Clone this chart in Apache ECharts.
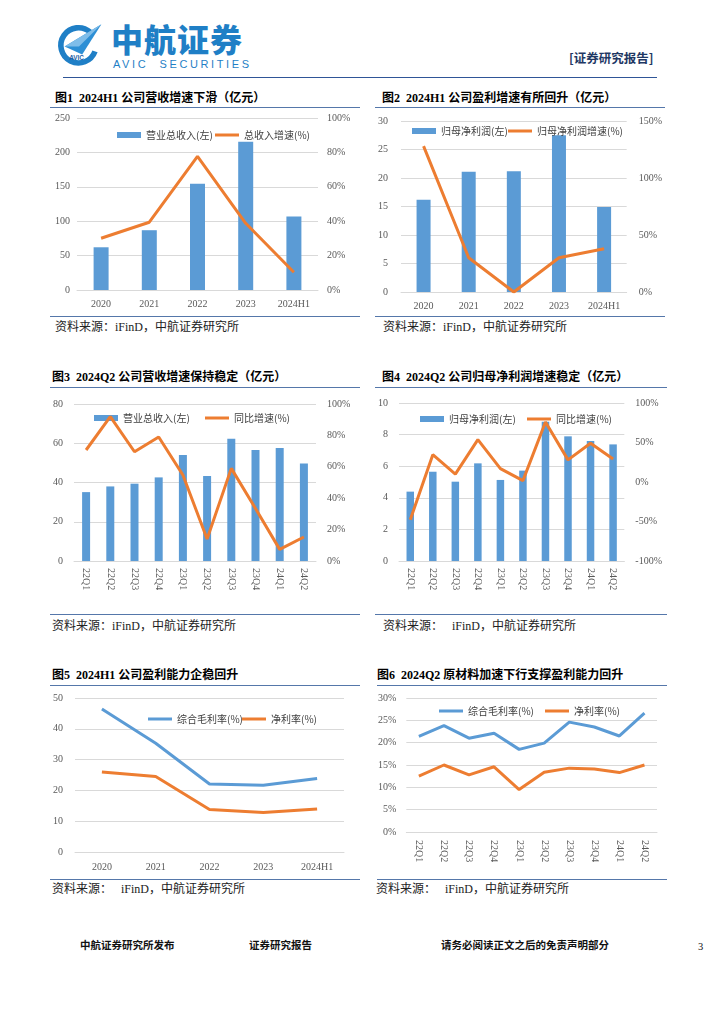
<!DOCTYPE html>
<html>
<head>
<meta charset="utf-8">
<script src="https://cdn.jsdelivr.net/npm/echarts/dist/echarts.min.js"></script>
<style>
  html,body{margin:0;padding:0;background:#fff;}
  body{width:724px;height:1024px;position:relative;overflow:hidden;font-family:"Liberation Serif","Noto Sans CJK SC",serif;}
  .abs{position:absolute;white-space:nowrap;}
  .title{font-family:"Liberation Serif","Noto Sans CJK SC",serif;font-weight:bold;font-size:12px;color:#000;line-height:14px;}
  .src{font-family:"Liberation Serif","Noto Sans CJK SC",serif;font-size:12px;color:#222;line-height:14px;}
  .hline{position:absolute;height:0;border-top:1.4px solid #5577aa;}
  .chart{position:absolute;}
  .foot{font-family:"Noto Sans CJK SC",sans-serif;font-weight:bold;font-size:10.5px;color:#111;line-height:12px;}
</style>
</head>
<body>

<!-- header -->
<svg class="abs" style="left:55px;top:22px" width="48" height="46" viewBox="0 0 60 56">
  <path d="M44 12 A22 22 0 1 0 50 36" fill="none" stroke="#1f7fc6" stroke-width="7"/>
  <polygon points="12,30 58,2 34,40" fill="#2d8fd5"/>
  <polygon points="12,30 58,2 30,30" fill="#7fbde9"/>
  <text x="27" y="47" font-size="8" font-weight="bold" font-family="Liberation Sans" fill="#1f5fa6" text-anchor="middle">AVIC</text>
</svg>
<div class="abs" style="left:111px;top:18px;font-family:'Noto Sans CJK SC';font-weight:900;font-size:32px;color:#1f7fc6;line-height:40px;letter-spacing:1px;">中航证券</div>
<div class="abs" style="left:113px;top:58px;font-family:'Liberation Sans';font-size:11px;color:#1f7fc6;letter-spacing:2.6px;line-height:12px;">AVIC&nbsp;&nbsp;SECURITIES</div>
<div class="abs" style="left:569px;top:50px;font-family:'Noto Sans CJK SC';font-weight:bold;font-size:12.5px;color:#1f3864;line-height:16px;">[证券研究报告]</div>
<div class="hline" style="left:63px;top:77px;width:594px;border-top:1.6px solid #2f5597;"></div>

<!-- panel titles / rules / sources -->
<div class="abs title" style="left:55px;top:91px;">图1&nbsp; 2024H1 公司营收增速下滑（亿元）</div>
<div class="hline" style="left:50px;top:107px;width:310px;"></div>
<div class="hline" style="left:50px;top:316px;width:310px;"></div>
<div class="abs src" style="left:55px;top:320px;">资料来源：iFinD，中航证券研究所</div>

<div class="abs title" style="left:382px;top:91px;">图2&nbsp; 2024H1 公司盈利增速有所回升（亿元）</div>
<div class="hline" style="left:375px;top:107px;width:290px;"></div>
<div class="hline" style="left:375px;top:316px;width:290px;"></div>
<div class="abs src" style="left:383px;top:320px;">资料来源：iFinD，中航证券研究所</div>

<div class="abs title" style="left:52px;top:370px;">图3&nbsp; 2024Q2 公司营收增速保持稳定（亿元）</div>
<div class="hline" style="left:50px;top:387px;width:310px;"></div>
<div class="hline" style="left:50px;top:614px;width:310px;"></div>
<div class="abs src" style="left:52px;top:619px;">资料来源：iFinD，中航证券研究所</div>

<div class="abs title" style="left:382px;top:370px;">图4&nbsp; 2024Q2 公司归母净利润增速稳定（亿元）</div>
<div class="hline" style="left:375px;top:387px;width:292px;"></div>
<div class="hline" style="left:375px;top:614px;width:292px;"></div>
<div class="abs src" style="left:383px;top:619px;">资料来源：&nbsp;&nbsp; iFinD，中航证券研究所</div>

<div class="abs title" style="left:52px;top:668px;">图5&nbsp; 2024H1 公司盈利能力企稳回升</div>
<div class="hline" style="left:50px;top:685px;width:310px;"></div>
<div class="hline" style="left:50px;top:879px;width:310px;"></div>
<div class="abs src" style="left:52px;top:882px;">资料来源：&nbsp;&nbsp; iFinD，中航证券研究所</div>

<div class="abs title" style="left:377px;top:668px;">图6&nbsp; 2024Q2 原材料加速下行支撑盈利能力回升</div>
<div class="hline" style="left:377px;top:685px;width:290px;"></div>
<div class="hline" style="left:377px;top:879px;width:290px;"></div>
<div class="abs src" style="left:376px;top:882px;">资料来源：&nbsp;&nbsp; iFinD，中航证券研究所</div>

<!-- charts -->
<div id="c1" class="chart" style="left:50px;top:108px;width:310px;height:207px;"></div>
<div id="c2" class="chart" style="left:375px;top:108px;width:290px;height:207px;"></div>
<div id="c3" class="chart" style="left:50px;top:388px;width:310px;height:225px;"></div>
<div id="c4" class="chart" style="left:375px;top:388px;width:290px;height:225px;"></div>
<div id="c5" class="chart" style="left:50px;top:686px;width:310px;height:192px;"></div>
<div id="c6" class="chart" style="left:375px;top:686px;width:290px;height:192px;"></div>

<!-- footer -->
<div class="abs foot" style="left:80px;top:939px;">中航证券研究所发布</div>
<div class="abs foot" style="left:249px;top:939px;">证券研究报告</div>
<div class="abs foot" style="left:441px;top:939px;">请务必阅读正文之后的免责声明部分</div>
<div class="abs foot" style="left:698px;top:941px;font-family:'Liberation Serif';font-weight:normal;">3</div>

<script>
// ---------- data ----------
const yearCats = ['2020', '2021', '2022', '2023', '2024H1'];
const quarterCats = ['22Q1', '22Q2', '22Q3', '22Q4', '23Q1', '23Q2', '23Q3', '23Q4', '24Q1', '24Q2'];

const revenueAnnual = [62.1, 86.9, 154.4, 215.5, 106.8];
const revenueGrowthAnnual = [30.1, 39.4, 77.7, 38.8, 10.3];

const profitAnnual = [16.2, 21.1, 21.2, 27.5, 14.9];
const profitGrowthAnnual = [128, 30, 0, 30, 38];

const revenueQuarter = [35.1, 38.0, 39.4, 42.6, 54.0, 43.3, 62.3, 56.5, 57.6, 49.7];
const revenueGrowthQuarter = [70.7, 92, 69.6, 79, 54.8, 14, 59, 33.5, 7.4, 15.3];

const profitQuarter = [4.39, 5.65, 5.02, 6.18, 5.13, 5.72, 8.82, 7.89, 7.59, 7.38];
const profitGrowthQuarter = [-47.7, 34.6, 10, 53.6, 17, 1.7, 76, 28, 49, 29];

const grossMarginAnnual = [46.4, 35.3, 22.1, 21.7, 23.9];
const netMarginAnnual = [26.0, 24.5, 13.8, 12.8, 14.0];

const grossMarginQuarter = [21.4, 23.8, 21.0, 22.1, 18.5, 19.9, 24.6, 23.5, 21.5, 26.6];
const netMarginQuarter = [12.5, 15.0, 12.8, 14.6, 9.5, 13.4, 14.3, 14.1, 13.3, 15.0];

// ---------- styles ----------
const BLUE = '#5b9bd5';
const ORANGE = '#ed7d31';
const GRID_COLOR = '#d9d9d9';
const LABEL = { color: '#595959', fontSize: 10, fontFamily: 'Liberation Serif' };
const LEGEND_TEXT = { fontSize: 10, color: '#404040', fontFamily: 'Noto Sans CJK SC' };

function legendItem(name, left, top, h) {
  return {
    left: left, top: top, itemWidth: 24, itemHeight: h, itemGap: 4,
    textStyle: LEGEND_TEXT, data: [{ name: name, icon: 'rect' }]
  };
}

function xAxisCfg(cats, margin, rotate) {
  return {
    type: 'category', data: cats,
    axisLine: { lineStyle: { color: GRID_COLOR } },
    axisTick: { show: false },
    axisLabel: Object.assign({}, LABEL, { margin: margin, rotate: rotate || 0, interval: 0 })
  };
}

function combo(id, c) {
  const chart = echarts.init(document.getElementById(id));
  chart.setOption({
    animation: false,
    grid: { left: c.grid[0], top: c.grid[1], width: c.grid[2], height: c.grid[3] },
    legend: [
      legendItem(c.barName, c.legend[0], c.legend[2], 6),
      legendItem(c.lineName, c.legend[1], c.legend[2], 3)
    ],
    xAxis: xAxisCfg(c.cats, c.xMargin, c.rotate),
    yAxis: [
      { type: 'value', min: c.left[0], max: c.left[1], interval: c.left[2],
        axisLine: { show: false }, axisTick: { show: false },
        axisLabel: Object.assign({}, LABEL, { margin: c.lMargin }),
        splitLine: { lineStyle: { color: GRID_COLOR } } },
      { type: 'value', min: c.right[0], max: c.right[1], interval: c.right[2],
        axisLine: { show: false }, axisTick: { show: false },
        axisLabel: Object.assign({}, LABEL, { margin: c.rMargin, formatter: '{value}%' }),
        splitLine: { show: false } }
    ],
    series: [
      { type: 'bar', name: c.barName, data: c.bars, barWidth: c.barWidth,
        itemStyle: { color: BLUE } },
      { type: 'line', name: c.lineName, data: c.line, yAxisIndex: 1,
        symbol: 'none', z: 5,
        lineStyle: { width: 3, color: ORANGE }, itemStyle: { color: ORANGE } }
    ]
  });
}

function lines(id, c) {
  const chart = echarts.init(document.getElementById(id));
  chart.setOption({
    animation: false,
    grid: { left: c.grid[0], top: c.grid[1], width: c.grid[2], height: c.grid[3] },
    legend: [
      legendItem(c.names[0], c.legend[0], c.legend[2], 3),
      legendItem(c.names[1], c.legend[1], c.legend[2], 3)
    ],
    xAxis: Object.assign(xAxisCfg(c.cats, c.xMargin, c.rotate), { boundaryGap: true }),
    yAxis: { type: 'value', min: c.y[0], max: c.y[1], interval: c.y[2],
      axisLine: { show: false }, axisTick: { show: false },
      axisLabel: Object.assign({}, LABEL, { margin: c.lMargin, formatter: c.fmt }),
      splitLine: { lineStyle: { color: GRID_COLOR } } },
    series: [
      { type: 'line', name: c.names[0], data: c.a, symbol: 'none',
        lineStyle: { width: 3, color: BLUE }, itemStyle: { color: BLUE } },
      { type: 'line', name: c.names[1], data: c.b, symbol: 'none',
        lineStyle: { width: 3, color: ORANGE }, itemStyle: { color: ORANGE } }
    ]
  });
}

combo('c1', {
  grid: [27, 10, 241, 172], legend: [62, 160, 17],
  cats: yearCats, xMargin: 9,
  left: [0, 250, 50], right: [0, 100, 20], lMargin: 7, rMargin: 9,
  barName: '营业总收入(左)', lineName: '总收入增速(%)',
  bars: revenueAnnual, line: revenueGrowthAnnual, barWidth: 15
});

combo('c2', {
  grid: [25, 13, 230, 171], legend: [32, 128, 13],
  cats: yearCats, xMargin: 9,
  left: [0, 30, 5], right: [0, 150, 50], lMargin: 13, rMargin: 12,
  barName: '归母净利润(左)', lineName: '归母净利润增速(%)',
  bars: profitAnnual, line: profitGrowthAnnual, barWidth: 14
});

combo('c3', {
  grid: [18, 16, 248, 157], legend: [39, 150, 20],
  cats: quarterCats, xMargin: 7, rotate: -90,
  left: [0, 80, 20], right: [0, 100, 20], lMargin: 11, rMargin: 11,
  barName: '营业总收入(左)', lineName: '同比增速(%)',
  bars: revenueQuarter, line: revenueGrowthQuarter, barWidth: 8
});

combo('c4', {
  grid: [22, 15, 233, 158], legend: [40, 147, 21],
  cats: quarterCats, xMargin: 7, rotate: -90,
  left: [0, 10, 2], right: [-100, 100, 50], lMargin: 11, rMargin: 11,
  barName: '归母净利润(左)', lineName: '同比增速(%)',
  bars: profitQuarter, line: profitGrowthQuarter, barWidth: 7.5
});

lines('c5', {
  grid: [22, 12, 272, 154], legend: [93, 187, 23],
  cats: yearCats, xMargin: 10,
  y: [0, 50, 10], lMargin: 12, fmt: '{value}',
  names: ['综合毛利率(%)', '净利率(%)'],
  a: grossMarginAnnual, b: netMarginAnnual
});

lines('c6', {
  grid: [26, 12, 256, 134], legend: [59, 165, 15],
  cats: quarterCats, xMargin: 8, rotate: -90,
  y: [0, 30, 5], lMargin: 10, fmt: '{value}%',
  names: ['综合毛利率(%)', '净利率(%)'],
  a: grossMarginQuarter, b: netMarginQuarter
});
</script>
</body>
</html>
